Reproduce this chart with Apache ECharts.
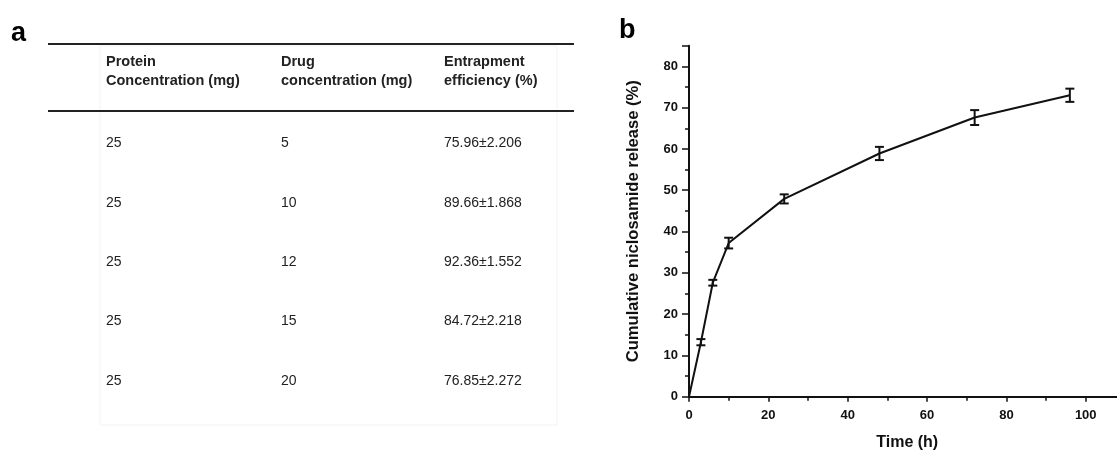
<!DOCTYPE html>
<html>
<head>
<meta charset="utf-8">
<script src="https://cdn.jsdelivr.net/npm/echarts@6/dist/echarts.min.js"></script>
<style>
  html, body { margin: 0; padding: 0; background: #fff; }
  #chart { width: 1117px; height: 450px; }
</style>
</head>
<body>
<div id="chart"></div>
<script>
// ---- Panel a: table data ----
const tableHeaders = ['Protein\nConcentration (mg)', 'Drug\nconcentration (mg)', 'Entrapment\nefficiency (%)'];
const proteinConc = ['25', '25', '25', '25', '25'];
const drugConc = ['5', '10', '12', '15', '20'];
const entrapEff = ['75.96±2.206', '89.66±1.868', '92.36±1.552', '84.72±2.218', '76.85±2.272'];

// ---- Panel b: release data ----
const times = [0, 3, 6, 10, 24, 48, 72, 96];
const release = [0, 13.2, 27.6, 37.2, 47.9, 58.9, 67.6, 73.0];
const releaseErr = [0, 0.75, 0.7, 1.3, 1.1, 1.6, 1.8, 1.6];

const FONT = '"Liberation Sans", Arial, Helvetica, sans-serif';
const INK = '#111';

// table layout (positions kept separate from data)
const colX = [106, 281, 444];
const rowY0 = 143.5, rowStep = 59.3;

const graphics = [];
// panel labels
graphics.push({ type: 'text', left: 11, top: 20, style: { text: 'a', font: 'bold 27px ' + FONT, fill: '#000' } });
graphics.push({ type: 'text', left: 619, top: 17, style: { text: 'b', font: 'bold 27px ' + FONT, fill: '#000' } });
// faint table frame
graphics.push({ type: 'rect', shape: { x: 100, y: 46, width: 457, height: 379 }, style: { fill: 'none', stroke: '#f3f3f3', lineWidth: 1 }, silent: true });
// rules
graphics.push({ type: 'line', shape: { x1: 48, y1: 44, x2: 574, y2: 44 }, style: { stroke: '#222', lineWidth: 2 } });
graphics.push({ type: 'line', shape: { x1: 48, y1: 111, x2: 574, y2: 111 }, style: { stroke: '#222', lineWidth: 2 } });
// headers
tableHeaders.forEach((h, i) => {
  graphics.push({ type: 'text', x: colX[i], y: 71.5, style: { text: h, font: 'bold 14.5px ' + FONT, fill: '#222', lineHeight: 19, verticalAlign: 'middle', align: 'left' } });
});
// rows
const cols = [proteinConc, drugConc, entrapEff];
proteinConc.forEach((_, r) => {
  cols.forEach((col, c) => {
    graphics.push({ type: 'text', x: colX[c], y: rowY0 + r * rowStep, style: { text: col[r], font: '14px ' + FONT, fill: '#222', verticalAlign: 'middle', align: 'left' } });
  });
});

const chart = echarts.init(document.getElementById('chart'), null, { renderer: 'canvas' });

const axisCommon = {
  axisLine: { show: true, onZero: false, lineStyle: { color: INK, width: 2 } },
  splitLine: { show: false },
  axisLabel: { color: INK, fontFamily: FONT, fontWeight: 'bold', fontSize: 13, showMaxLabel: false },
  nameTextStyle: { color: INK, fontFamily: FONT, fontWeight: 'bold', fontSize: 16 }
};

const option = {
  backgroundColor: '#fff',
  animation: false,
  graphic: graphics,
  grid: { left: 689, top: 45.7, width: 436.4, height: 351, containLabel: false, outerBoundsMode: 'none' },
  xAxis: Object.assign({}, axisCommon, {
    type: 'value', min: 0, max: 110, interval: 20,
    name: 'Time (h)', nameLocation: 'middle', nameGap: 38,
    axisTick: { show: true, length: 5, lineStyle: { color: INK, width: 1.5 } },
    minorTick: { show: true, splitNumber: 2, length: 4, lineStyle: { color: INK, width: 1.5 } },
    axisLabel: Object.assign({}, axisCommon.axisLabel, { margin: 12 })
  }),
  yAxis: Object.assign({}, axisCommon, {
    type: 'value', min: 0, max: 85, interval: 10,
    name: 'Cumulative niclosamide release (%)', nameLocation: 'middle', nameGap: 47,
    nameTextStyle: Object.assign({}, axisCommon.nameTextStyle, { fontSize: 16.6 }),
    axisTick: { show: true, length: 7, lineStyle: { color: INK, width: 1.5 } },
    minorTick: { show: true, splitNumber: 2, length: 4, lineStyle: { color: INK, width: 1.5 } },
    axisLabel: Object.assign({}, axisCommon.axisLabel, { margin: 11 })
  }),
  series: [
    {
      type: 'line',
      data: times.map((t, i) => [t, release[i]]),
      showSymbol: false,
      symbol: 'none',
      lineStyle: { color: INK, width: 2 },
      z: 2
    },
    {
      type: 'custom',
      data: times.map((t, i) => [t, release[i], releaseErr[i]]),
      z: 3,
      renderItem: function (params, api) {
        const x = api.value(0), y = api.value(1), e = api.value(2);
        if (!e) return null;
        const top = api.coord([x, y + e]);
        const bot = api.coord([x, y - e]);
        const hw = 4.5;
        const st = { stroke: INK, lineWidth: 2 };
        return {
          type: 'group',
          children: [
            { type: 'line', shape: { x1: top[0], y1: top[1], x2: bot[0], y2: bot[1] }, style: st },
            { type: 'line', shape: { x1: top[0] - hw, y1: top[1], x2: top[0] + hw, y2: top[1] }, style: st },
            { type: 'line', shape: { x1: bot[0] - hw, y1: bot[1], x2: bot[0] + hw, y2: bot[1] }, style: st }
          ]
        };
      }
    }
  ]
};

chart.setOption(option);
</script>
</body>
</html>
